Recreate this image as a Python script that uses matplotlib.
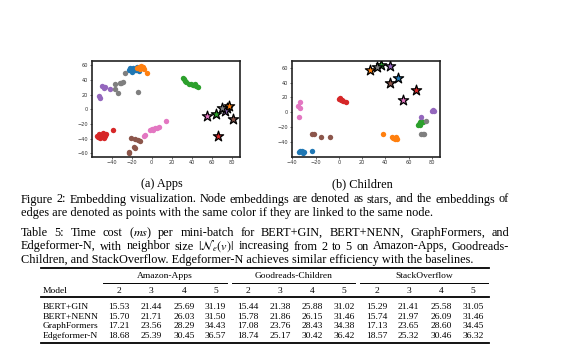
import numpy as np
import matplotlib
matplotlib.use("Agg")
import matplotlib.pyplot as plt

plt.rcParams["mathtext.fontset"] = "stix"
SERIF = "Liberation Serif"

# tab10 colours used per node (blue, orange, green, red, purple, brown, pink, gray)
COLORS = ["#1f77b4", "#ff7f0e", "#2ca02c", "#d62728", "#9467bd", "#8c564b", "#e377c2", "#7f7f7f"]

# --- Apps embeddings: node stars and edge points per colour ---
apps_stars_x = [75, 77, 64, 66, 73, 81, 55, 70]
apps_stars_y = [2, 5, -7, -36, -2, -13, -9, 2]
apps_pts = {
    0: ([-23, -21, -19, -17, -15, -13, -20, -16, -22, -18], [53, 55, 56, 54, 57, 52, 51, 53, 56, 55]),
    1: ([-15, -13, -11, -9, -8, -12, -10, -5], [56, 58, 59, 57, 55, 55, 58, 49]),
    2: ([31, 32, 33, 34, 37, 39, 41, 43, 44, 46], [43, 41, 38, 37, 34, 35, 33, 35, 32, 30]),
    3: ([-55, -53, -51, -49, -47, -52, -48, -50, -54, -46, -39], [-36, -33, -35, -32, -36, -39, -39, -37, -38, -34, -28]),
    4: ([-50, -48, -47, -42, -53, -52], [31, 29, 30, 28, 18, 15]),
    5: ([-21, -17, -14, -12, -18, -17, -23, -23], [-39, -40, -42, -43, -51, -53, -58, -60]),
    6: ([-8, -7, -2, 0, 1, 3, 5, 7, 14], [-37, -35, -28, -27, -28, -26, -25, -24, -16]),
    7: ([-27, -37, -32, -29, -31, -37, -34, -14], [49, 35, 36, 37, 36, 28, 22, 24]),
}

# --- Children embeddings ---
child_stars_x = [51, 27, 36, 66, 44, 44, 55, 33]
child_stars_y = [46, 57, 64, 30, 63, 39, 16, 61]
child_pts = {
    0: ([-34, -32, -30, -33, -31, -23], [-54, -53, -54, -52, -55, -52]),
    1: ([38, 46, 47, 48, 49, 50], [-30, -33, -35, -37, -34, -36]),
    2: ([68, 69, 70, 71, 72, 70], [-18, -16, -13, -12, -14, -17]),
    3: ([0, 1, 2, 3, 4, 6], [18, 19, 16, 17, 15, 13]),
    4: ([71, 80, 81, 82], [-6, 2, 3, 2]),
    5: ([-23, -21, -15, -8], [-29, -29, -34, -33]),
    6: ([-35, -33, -33, -34], [8, 13, 6, -6]),
    7: ([75, 71, 72, 73], [-12, -30, -29, -30]),
}

# --- Table 5: time cost (ms) per mini-batch ---
models = ["BERT+GIN", "BERT+NENN", "GraphFormers", "Edgeformer-N"]
datasets = ["Amazon-Apps", "Goodreads-Children", "StackOverflow"]
neighbor_sizes = ["2", "3", "4", "5"]
amazon_apps = [[15.53, 21.44, 25.69, 31.19], [15.70, 21.71, 26.03, 31.50],
               [17.21, 23.56, 28.29, 34.43], [18.68, 25.39, 30.45, 36.57]]
goodreads_children = [[15.44, 21.38, 25.88, 31.02], [15.78, 21.86, 26.15, 31.46],
                      [17.08, 23.76, 28.43, 34.38], [18.74, 25.17, 30.42, 36.42]]
stackoverflow = [[15.29, 21.41, 25.58, 31.05], [15.74, 21.97, 26.09, 31.46],
                 [17.13, 23.65, 28.60, 34.45], [18.57, 25.32, 30.46, 36.32]]

W, H = 580, 346
fig = plt.figure(figsize=(W / 100, H / 100), dpi=100)


def draw_embedding(rect, pts, sx, sy, xlim, ylim, yticks):
    ax = fig.add_axes(rect)
    for c, (xs, ys) in pts.items():
        ax.scatter(xs, ys, s=15, color=COLORS[c], linewidths=0, zorder=2)
    for c in range(len(sx)):
        ax.scatter(sx[c], sy[c], s=60, marker="*", color=COLORS[c],
                   edgecolors="black", linewidths=0.9, zorder=3)
    ax.set_xlim(*xlim)
    ax.set_ylim(*ylim)
    ax.set_xticks([-40, -20, 0, 20, 40, 60, 80])
    ax.set_yticks(yticks)
    ax.tick_params(labelsize=3.6, length=1.5, width=0.5, pad=1, colors="#333333")
    for sp in ax.spines.values():
        sp.set_linewidth(1.2)
        sp.set_color("#222222")
    return ax


def frac(px, py, pw, ph):
    return [px / W, 1 - (py + ph) / H, pw / W, ph / H]


draw_embedding(frac(91.7, 60.7, 148.3, 96), apps_pts, apps_stars_x, apps_stars_y,
               (-60, 88.3), (-64.5, 66), [-60, -40, -20, 0, 20, 40, 60])
draw_embedding(frac(291.7, 60.7, 148.3, 96), child_pts, child_stars_x, child_stars_y,
               (-40.5, 87), (-60.3, 69.5), [-40, -20, 0, 20, 40, 60])

# overlay in pixel coordinates for captions and the table
ov = fig.add_axes([0, 0, 1, 1])
ov.set_xlim(0, W)
ov.set_ylim(H, 0)
ov.axis("off")
renderer = fig.canvas.get_renderer()

LEFT, RIGHT = 21, 509
txt = dict(family=SERIF, fontsize=8.8, va="baseline", color="black")


def justified(y, line):
    # spread the words so the line fills the text column
    words = line.split(" ")
    objs = [ov.text(0, y, w, ha="left", **txt) for w in words]
    widths = [o.get_window_extent(renderer).width for o in objs]
    gap = (RIGHT - LEFT - sum(widths)) / (len(words) - 1)
    x = LEFT
    for o, w in zip(objs, widths):
        o.set_x(x)
        x += w + gap


ov.text(162, 187.3, "(a) Apps", ha="center", **txt)
ov.text(362, 187.3, "(b) Children", ha="center", **txt)
justified(202.5, "Figure 2: Embedding visualization. Node embeddings are denoted as stars, and the embeddings of")
ov.text(LEFT, 216, "edges are denoted as points with the same color if they are linked to the same node.", ha="left", **txt)
justified(236, "Table 5: Time cost ($ms$) per mini-batch for BERT+GIN, BERT+NENN, GraphFormers, and")
justified(249.5, r"Edgeformer-N, with neighbor size $|\mathcal{N}_e(v)|$ increasing from 2 to 5 on Amazon-Apps, Goodreads-")
ov.text(LEFT, 263, "Children, and StackOverflow. Edgeformer-N achieves similar efficiency with the baselines.", ha="left", **txt)

tab = dict(family=SERIF, fontsize=6.8, va="baseline", color="black")
col_x = [[118.5, 151, 184, 215.5], [248, 280, 312.5, 344], [376.5, 408.5, 441, 473]]
spans = [(103, 227), (232, 355), (360, 488)]
tables = [amazon_apps, goodreads_children, stackoverflow]
TL, TR = 41, 489

ov.plot([TL, TR], [267.5, 267.5], color="black", lw=1.3)
for d, name in enumerate(datasets):
    ov.text(sum(spans[d]) / 2, 278, name, ha="center", **tab)
    ov.plot(spans[d], [283.3, 283.3], color="black", lw=0.7)
    for j, n in enumerate(neighbor_sizes):
        ov.text(col_x[d][j], 293.2, n, ha="center", **tab)
ov.text(42.5, 293.2, "Model", ha="left", **tab)
ov.plot([TL, TR], [297.3, 297.3], color="black", lw=1.3)

row_y = [308.7, 318.7, 328.5, 338.2]
for i, m in enumerate(models):
    ov.text(42.5, row_y[i], m, ha="left", **tab)
    for d in range(3):
        for j in range(4):
            ov.text(col_x[d][j], row_y[i], f"{tables[d][i][j]:.2f}", ha="center", **tab)
ov.plot([TL, TR], [343.3, 343.3], color="black", lw=1.3)

fig.savefig("out.png", dpi=100)
